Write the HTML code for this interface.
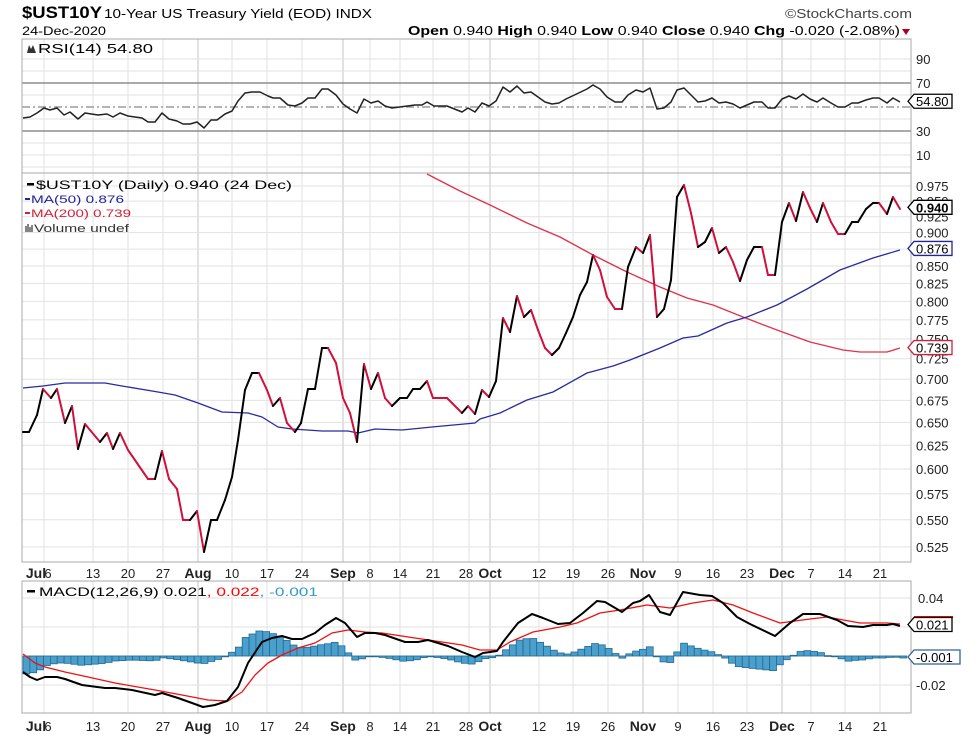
<!DOCTYPE html>
<html><head><meta charset="utf-8"><style>
html,body{margin:0;padding:0;background:#fff;}
svg{display:block;font-family:"Liberation Sans",sans-serif;}
</style></head><body>
<svg id="s" width="977" height="739" viewBox="0 0 977 739" xmlns="http://www.w3.org/2000/svg">
<rect width="977" height="739" fill="#fff"/>
<g id="grid"></g>
<g id="plots"></g>
<!-- header -->
<text x="22" y="18" font-size="17" font-weight="bold" textLength="80" lengthAdjust="spacingAndGlyphs">$UST10Y</text>
<text x="104" y="18" font-size="13" textLength="268" lengthAdjust="spacingAndGlyphs">10-Year US Treasury Yield (EOD) INDX</text>
<text x="785" y="18" font-size="13" fill="#444" textLength="127" lengthAdjust="spacingAndGlyphs">©StockCharts.com</text>
<text x="22" y="35" font-size="12" textLength="84" lengthAdjust="spacingAndGlyphs">24-Dec-2020</text>
<text x="408" y="35" font-size="13" textLength="492" lengthAdjust="spacingAndGlyphs"><tspan font-weight="bold">Open</tspan> 0.940 <tspan font-weight="bold">High</tspan> 0.940 <tspan font-weight="bold">Low</tspan> 0.940 <tspan font-weight="bold">Close</tspan> 0.940 <tspan font-weight="bold">Chg</tspan> -0.020 (-2.08%)</text>
<path d="M902 29 L910 29 L906 35 Z" fill="#b00020"/>
<!-- legends -->
<path d="M27 53 L29 45 L31 49 L33 45 L36 53 Z" fill="#333"/>
<text x="38" y="53" font-size="13" textLength="115" lengthAdjust="spacingAndGlyphs">RSI(14) 54.80</text>
<rect x="27" y="183" width="7" height="2.5" fill="#000"/>
<text x="36" y="189" font-size="12" textLength="256" lengthAdjust="spacingAndGlyphs">$UST10Y (Daily) 0.940 (24 Dec)</text>
<rect x="25" y="198" width="5" height="2" fill="#22229a"/>
<text x="31" y="203" font-size="11" fill="#22229a" textLength="93" lengthAdjust="spacingAndGlyphs">MA(50) 0.876</text>
<rect x="25" y="212" width="5" height="2" fill="#d0203c"/>
<text x="31" y="217" font-size="11" fill="#d0203c" textLength="100" lengthAdjust="spacingAndGlyphs">MA(200) 0.739</text>
<path d="M26 232 v-6 M28 232 v-8 M30 232 v-5 M32 232 v-7" stroke="#444" stroke-width="1.3"/>
<text x="34" y="232" font-size="11" fill="#333" textLength="95" lengthAdjust="spacingAndGlyphs">Volume undef</text>
<rect x="27" y="590" width="8" height="2.5" fill="#000"/>
<text x="39" y="596" font-size="12" textLength="279" lengthAdjust="spacingAndGlyphs">MACD(12,26,9) 0.021<tspan fill="#f00">, 0.022</tspan><tspan fill="#3399cc">, -0.001</tspan></text>
<g id="labels" font-size="12"></g>
</svg>
<script>
var NS="http://www.w3.org/2000/svg";
function el(p,t,a,txt){var e=document.createElementNS(NS,t);for(var k in a)e.setAttribute(k,a[k]);if(txt!==undefined)e.textContent=txt;p.appendChild(e);return e;}
var G=document.getElementById('grid'),P=document.getElementById('plots'),L=document.getElementById('labels');
var X0=22,X1=911;
var panels=[[39,173],[173,562],[581,713]];
var weeks=[[44,0],[93,0],[128,0],[163,0],[198,1],[232,0],[267,0],[302,0],[343,1],[370,0],[400,0],[433,0],[469,0],[490,1],[539,0],[573,0],[608,0],[643,1],[678,0],[713,0],[747,0],[782,1],[811,0],[845,0],[880,0]];
panels.forEach(function(p){weeks.forEach(function(w){el(G,'line',{x1:w[0],x2:w[0],y1:p[0],y2:p[1],stroke:w[1]?'#c4c4c4':'#e2e2e2','stroke-width':1});});});
function py(v){return 186-583*(Math.log(v)+0.0253);}
for(var v=0.525;v<0.99;v+=0.025){var y=py(v);el(G,'line',{x1:X0,x2:X1,y1:y,y2:y,stroke:'#e2e2e2'});
 el(L,'text',{x:916,y:y+5,'font-size':13,fill:'#222'},v.toFixed(3));}
function ry(v){return 107-(v-50)*1.2;}
[90,80,60,40,20,10,0].forEach(function(v){var y=ry(v);el(G,'line',{x1:X0,x2:X1,y1:y,y2:y,stroke:'#e2e2e2'});});
[70,30].forEach(function(v){var y=ry(v);el(G,'line',{x1:X0,x2:X1,y1:y,y2:y,stroke:'#777','stroke-width':1.3});});
el(G,'line',{x1:X0,x2:X1,y1:107,y2:107,stroke:'#888','stroke-width':1.3,'stroke-dasharray':'8,3,2,3'});
[90,70,30,10].forEach(function(a){el(L,'text',{x:916,y:ry(a)+5,'font-size':13,fill:'#222'},String(a));});
function my(v){return 656-v*1450;}
[0.04,0.02,0,-0.02].forEach(function(v){el(G,'line',{x1:X0,x2:X1,y1:my(v),y2:my(v),stroke:'#e2e2e2'});});
el(L,'text',{x:918,y:my(0.04)+5,'font-size':13,fill:'#222'},'0.04');
el(L,'text',{x:916,y:my(-0.02)+5,'font-size':13,fill:'#222'},'-0.02');
panels.forEach(function(p){el(G,'rect',{x:X0,y:p[0],width:X1-X0,height:p[1]-p[0],fill:'none',stroke:'#aaa'});});
var xl=[[36,'Jul',1],[48,'6',0],[93,'13',0],[128,'20',0],[163,'27',0],[198,'Aug',1],[232,'10',0],[267,'17',0],[302,'24',0],[343,'Sep',1],[370,'8',0],[400,'14',0],[433,'21',0],[466,'28',0],[490,'Oct',1],[539,'12',0],[573,'19',0],[608,'26',0],[643,'Nov',1],[678,'9',0],[713,'16',0],[747,'23',0],[782,'Dec',1],[811,'7',0],[845,'14',0],[880,'21',0]];
[578,731].forEach(function(yy){xl.forEach(function(a){el(L,'text',{x:a[0],y:yy,'text-anchor':'middle','font-size':a[2]?14:13,'font-weight':a[2]?'bold':'normal',fill:'#222'},a[1]);});});
function pl(pts,col,w){el(P,'polyline',{points:pts.map(function(p){return p.join(',')}).join(' '),fill:'none',stroke:col,'stroke-width':w,'stroke-linejoin':'round'});}
function interp(pts,x){if(x<=pts[0][0])return pts[0][1];for(var i=1;i<pts.length;i++){if(x<=pts[i][0]){var a=pts[i-1],b=pts[i];return a[1]+(b[1]-a[1])*(x-a[0])/(b[0]-a[0]);}}return pts[pts.length-1][1];}
var macd=[[23,672],[30,677],[37,680],[45,677],[57,677],[65,679],[82,685],[105,688],[115,688],[132,690],[155,695],[162,693],[178,698],[192,703],[203,707],[215,705],[227,701],[238,687],[248,663],[262,642],[272,638],[282,636],[292,639],[302,639],[315,633],[325,625],[336,618],[345,623],[357,637],[365,633],[375,633],[385,635],[405,642],[418,642],[428,640],[438,643],[448,646],[462,652],[475,657],[483,653],[497,651],[503,642],[518,623],[532,614],[543,618],[558,624],[570,623],[583,613],[597,601],[605,602],[622,612],[633,603],[640,601],[649,595],[660,612],[670,615],[683,592],[700,595],[712,596],[723,603],[737,617],[750,624],[775,636],[790,623],[803,614],[820,614],[837,620],[848,626],[863,627],[873,625],[887,625],[893,624],[900,626]];
var sig=[[23,654],[35,663],[45,667],[65,672],[88,677],[115,683],[155,690],[182,695],[208,700],[228,701],[242,692],[255,675],[268,663],[282,655],[298,648],[315,643],[332,633],[348,630],[365,632],[382,633],[415,638],[442,642],[462,645],[480,650],[497,650],[510,642],[533,632],[560,627],[577,623],[600,613],[620,610],[647,605],[670,608],[693,603],[713,600],[733,605],[753,613],[780,623],[810,619],[827,617],[860,623],[887,623],[900,624]];
for(var x=23;x<=901;x+=6.85){var h=interp(sig,x+3.4)-interp(macd,x+3.4);var y0=656,y1=656-h;
 el(P,'rect',{x:x,y:Math.min(y0,y1),width:6.85,height:Math.max(0.8,Math.abs(h)),fill:'#4b9fcc',stroke:'#236a90','stroke-width':0.8});}
pl(sig,'#f01010',1.3);pl(macd,'#000',2);
var rsi=[[23,118],[30,117],[37,113],[44,108],[50,110],[57,108],[64,115],[70,112],[78,119],[85,113],[98,115],[107,114],[113,117],[120,113],[128,116],[142,118],[148,122],[155,122],[162,113],[169,119],[177,121],[183,124],[190,124],[197,122],[204,128],[211,120],[217,120],[225,114],[232,111],[238,101],[245,93],[252,92],[260,92],[268,96],[273,98],[280,98],[288,105],[295,106],[302,103],[308,98],[315,98],[322,89],[328,89],[336,95],[343,104],[350,109],[357,113],[364,99],[371,103],[378,101],[385,106],[392,108],[415,105],[422,105],[427,102],[434,106],[447,106],[462,112],[468,108],[475,112],[482,103],[489,106],[496,101],[503,87],[510,92],[517,86],[524,93],[531,92],[545,102],[552,104],[559,103],[566,99],[587,89],[593,85],[600,89],[607,97],[615,102],[622,102],[628,95],[636,90],[643,92],[650,88],[657,109],[664,108],[671,102],[677,90],[684,88],[698,102],[705,101],[712,98],[719,103],[726,102],[733,104],[740,108],[747,105],[754,102],[762,102],[768,108],[775,108],[782,99],[789,96],[796,99],[803,94],[810,99],[817,102],[823,98],[831,103],[838,107],[845,107],[852,103],[858,103],[866,100],[873,98],[879,98],[887,103],[893,98],[900,102]];
pl(rsi,'#222',1.5);
var ma50=[[23,388],[43,386],[65,383],[105,383],[122,386],[158,392],[175,395],[198,403],[222,412],[248,413],[262,417],[278,427],[292,429],[322,431],[348,431],[358,433],[375,429],[402,430],[432,427],[475,423],[480,419],[500,413],[527,400],[553,392],[587,373],[613,366],[630,360],[660,348],[683,338],[698,336],[727,323],[747,317],[777,305],[807,289],[840,270],[873,258],[900,250]];
var ma200=[[427,174],[460,191],[490,205],[527,223],[560,237],[593,255],[627,272],[660,287],[687,298],[713,305],[743,317],[777,330],[810,342],[843,350],[860,352],[887,352],[900,348]];
pl(ma200,'#e0304a',1.3);pl(ma50,'#2a2aa0',1.3);
var pr=[[23,432],[29,432],[37,415],[43,389],[51,398],[57,389],[65,423],[72,406],[78,449],[85,424],[100,442],[107,433],[113,449],[120,433],[128,450],[148,479],[155,479],[162,451],[169,479],[177,489],[183,520],[190,520],[197,511],[204,552],[211,520],[217,520],[225,500],[232,477],[238,440],[245,390],[252,373],[259,373],[267,390],[273,406],[280,398],[287,423],[295,432],[301,423],[308,389],[315,389],[322,348],[328,348],[336,363],[343,398],[350,413],[357,442],[364,364],[371,389],[378,373],[385,398],[392,406],[400,398],[407,398],[413,389],[420,389],[427,381],[433,398],[447,398],[462,413],[468,406],[475,414],[482,390],[489,397],[496,381],[503,318],[510,332],[517,296],[524,317],[531,310],[538,330],[545,348],[552,355],[559,348],[566,333],[573,317],[580,295],[587,282],[593,255],[600,270],[607,297],[615,309],[622,309],[628,267],[636,247],[643,253],[650,235],[657,317],[664,309],[671,280],[677,197],[684,185],[691,213],[698,247],[705,242],[712,228],[719,253],[726,247],[733,262],[740,281],[747,260],[754,247],[762,247],[768,275],[775,275],[782,222],[789,203],[796,221],[803,192],[810,208],[817,222],[823,203],[831,222],[838,234],[845,234],[852,222],[858,222],[866,209],[873,203],[879,203],[887,214],[893,197],[900,209]];
var col='#000';
for(var i=1;i<pr.length;i++){var a=pr[i-1],b=pr[i];if(b[1]>a[1])col='#d0103a';else if(b[1]<a[1])col='#000';
 el(P,'line',{x1:a[0],y1:a[1],x2:b[0],y2:b[1],stroke:col,'stroke-width':2,'stroke-linecap':'round'});}
function box(y,txt,col,bold,w){w=w||44;var x=908;el(L,'path',{d:'M'+x+' '+y+' L'+(x+6)+' '+(y-7)+' L'+(x+w)+' '+(y-7)+' L'+(x+w)+' '+(y+7)+' L'+(x+6)+' '+(y+7)+' Z',fill:'#fff',stroke:col,'stroke-width':1.3});
 el(L,'text',{x:x+8,y:y+5,'font-size':13,'font-weight':bold?'bold':'normal',fill:'#000'},txt);}
box(py(0.94),'0.940','#000',1);
box(py(0.876),'0.876','#22229a',0);
box(py(0.739),'0.739','#d0203c',0);
box(ry(54.8),'54.80','#000',0);
el(L,'line',{x1:914,x2:953,y1:617,y2:617,stroke:'#f00','stroke-width':2});
box(624.5,'0.021','#000',0);
box(657,'-0.001','#3060a0',0,52);
</script>
</body></html>
